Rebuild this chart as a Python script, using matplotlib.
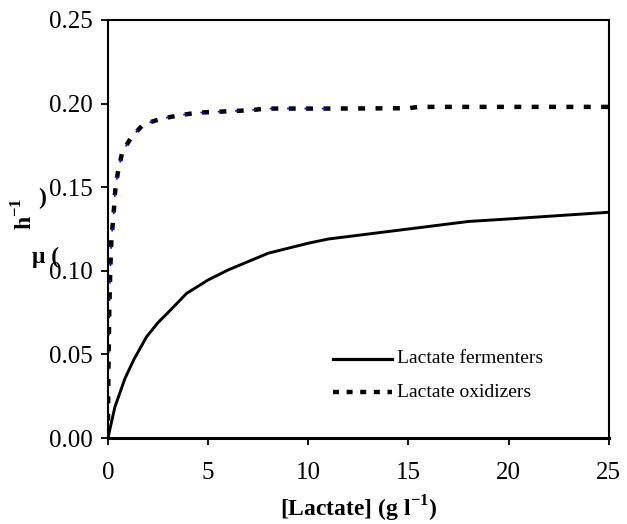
import matplotlib.pyplot as plt
import numpy as np

plt.rcParams['font.family'] = ['Liberation Serif', 'DejaVu Serif']
plt.rcParams['mathtext.fontset'] = 'custom'
plt.rcParams['mathtext.rm'] = 'Liberation Serif'
plt.rcParams['mathtext.bf'] = 'Liberation Serif:bold'
plt.rcParams['lines.scale_dashes'] = False

# - DATA -
ferm_x = [0, 0.05, 0.35, 0.85, 1.3, 1.93, 2.5, 3.0, 3.93, 5.0, 6.0, 7.0, 8.0, 9.0, 10.0, 11.0, 12.0, 15.0, 18.0, 20.0, 25.0]
ferm_y = [0, 0.0025, 0.0185, 0.0355, 0.047, 0.0605, 0.069, 0.075, 0.0865, 0.0945, 0.1005, 0.1055, 0.1105, 0.1135, 0.1165, 0.119, 0.1205, 0.125, 0.1295, 0.131, 0.135]

oxid_x = [0, 0.03, 0.07, 0.12, 0.18, 0.27, 0.38, 0.52, 0.72, 1.18, 1.77, 2.68, 3.6, 4.43, 7.1, 7.9, 11.4, 15.0, 15.5, 25.0]
oxid_y = [0, 0.04, 0.075, 0.1, 0.12, 0.131, 0.15, 0.16, 0.171, 0.18, 0.1875, 0.191, 0.193, 0.1945, 0.196, 0.197, 0.197, 0.1972, 0.198, 0.198]

xticks = [0, 5, 10, 15, 20, 25]
yticks = [0.00, 0.05, 0.10, 0.15, 0.20, 0.25]
# - DATA -

fig = plt.figure(figsize=(6.27, 5.24), dpi=100)
ax = fig.add_axes([0.172, 0.164, 0.799, 0.798])

ax.plot(ferm_x, ferm_y, color='black', lw=2.1, solid_capstyle='butt')
dash = (0, (5, 7.5))
ax.plot(oxid_x, oxid_y, color='black', lw=3.2, linestyle=dash, dash_capstyle='butt')
n_blue = sum(1 for v in oxid_x if v <= 11.4)
ax.plot(oxid_x[:n_blue], oxid_y[:n_blue], color='#1010c0', lw=1.2,
        linestyle=(1.2, (2.6, 9.9)), dash_capstyle='butt')

ax.set_xlim(0, 25)
ax.set_ylim(0, 0.25)
ax.set_xticks(xticks)
ax.set_xticklabels([str(v) for v in xticks])
ax.set_yticks(yticks)
ax.set_yticklabels(['%.2f' % v for v in yticks])
ax.tick_params(direction='out', length=5, width=1.3, labelsize=18)
ax.tick_params(axis='x', pad=12)
ax.tick_params(axis='y', pad=6)
for s in ax.spines.values():
    s.set_linewidth(1.5)
ax.spines['bottom'].set_linewidth(2.2)

ax.set_xlabel('[Lactate] (g l$^{\\mathbf{-1}}$)', fontsize=17, fontweight='bold', labelpad=7)

# broken y-axis label as in the original
fig.text(25 / 627, 1 - 214 / 524, 'h$^{\\mathbf{-1}}$', rotation=90, fontsize=17,
         fontweight='bold', ha='center', va='center')
fig.text(42 / 627, 1 - 198 / 524, ')', fontsize=17, fontweight='bold', ha='center', va='center')
fig.text(46 / 627, 1 - 257 / 524, 'μ (', fontsize=17, fontweight='bold', ha='center', va='center')

# legend drawn inside the axes
leg_x0, leg_x1, leg_tx = 11.25, 14.2, 14.45
ax.plot([leg_x0, leg_x1], [0.0475, 0.0475], color='black', lw=2.3)
ax.text(leg_tx, 0.0475, 'Lactate fermenters', fontsize=14, va='center', ha='left')
ax.plot([leg_x0, leg_x1], [0.0275, 0.0275], color='black', lw=3.2, linestyle=(0, (4.3, 5.5)))
ax.text(leg_tx, 0.0275, 'Lactate oxidizers', fontsize=14, va='center', ha='left')

fig.savefig('out.png', dpi=100)
